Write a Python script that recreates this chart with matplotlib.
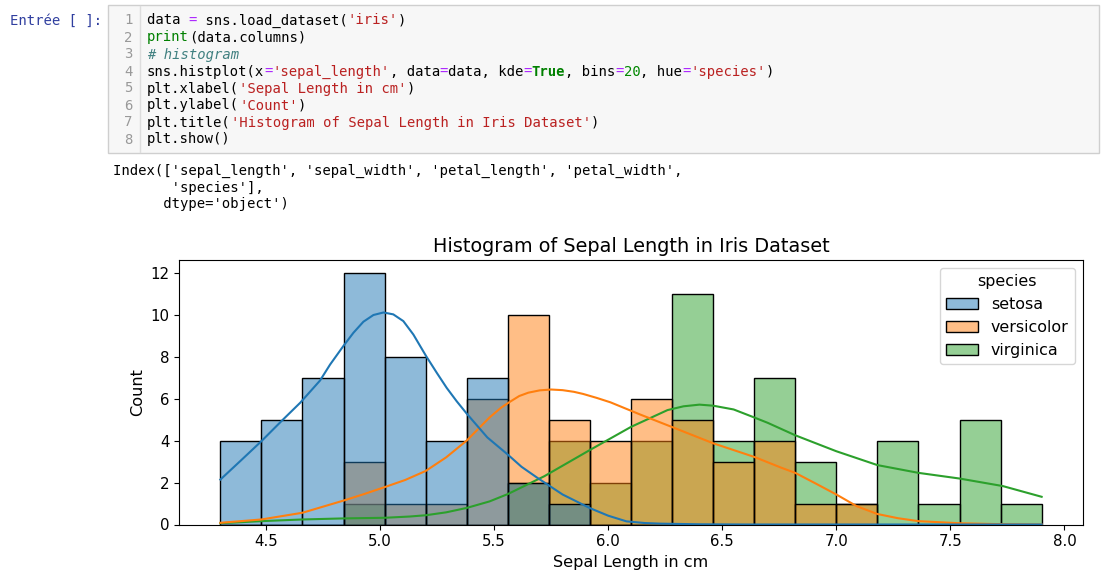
import matplotlib
matplotlib.use("Agg")
import matplotlib.pyplot as plt
import numpy as np
from matplotlib.colors import to_rgba
from matplotlib.patches import Rectangle, Patch
from matplotlib.lines import Line2D

# ---------------- data ----------------
species = ["setosa", "versicolor", "virginica"]
colors = ["#1f77b4", "#ff7f0e", "#2ca02c"]
bin_start, bin_end, n_bins = 4.3, 7.9, 20

counts_setosa = [4, 5, 7, 12, 8, 4, 7, 2, 1, 0, 0, 0, 0, 0, 0, 0, 0, 0, 0, 0]
counts_versicolor = [0, 0, 0, 3, 1, 1, 6, 10, 5, 4, 6, 5, 3, 4, 1, 1, 0, 0, 0, 0]
counts_virginica = [0, 0, 0, 1, 0, 0, 0, 2, 4, 2, 4, 11, 4, 7, 3, 1, 4, 1, 5, 1]

kde_x_setosa = [4.30, 4.39, 4.48, 4.57, 4.65, 4.737, 4.781, 4.839, 4.883, 4.927, 4.971,
                5.015, 5.058, 5.102, 5.146, 5.202, 5.249, 5.292, 5.336, 5.38, 5.47, 5.56,
                5.62, 5.69, 5.80, 5.92, 6.00, 6.08, 6.16, 6.23, 6.40, 6.60, 7.90]
kde_y_setosa = [2.14, 3.05, 3.97, 4.95, 5.80, 6.86, 7.62, 8.50, 9.13, 9.66, 9.98,
                10.10, 10.01, 9.69, 9.05, 8.02, 7.22, 6.51, 5.87, 5.28, 4.15, 3.33,
                2.75, 2.22, 1.43, 0.78, 0.42, 0.15, 0.07, 0.04, 0.01, 0.0, 0.0]

kde_x_versicolor = [4.30, 4.48, 4.66, 4.84, 4.93, 5.02, 5.11, 5.20, 5.29, 5.38, 5.48, 5.53,
                    5.57, 5.61, 5.65, 5.70, 5.75, 5.80, 5.85, 5.89, 5.95, 6.01, 6.14, 6.29,
                    6.46, 6.64, 6.76, 6.82, 6.91, 7.00, 7.09, 7.18, 7.27, 7.36, 7.54, 7.70,
                    7.90]
kde_y_versicolor = [0.08, 0.24, 0.56, 1.14, 1.45, 1.78, 2.12, 2.55, 3.20, 4.00, 5.10, 5.56,
                    5.85, 6.12, 6.28, 6.39, 6.43, 6.40, 6.32, 6.22, 6.03, 5.82, 5.24, 4.60,
                    3.87, 3.22, 2.70, 2.46, 1.95, 1.43, 0.87, 0.50, 0.30, 0.16, 0.06, 0.02,
                    0.0]

kde_x_virginica = [4.30, 4.48, 4.66, 4.84, 5.02, 5.13, 5.20, 5.29, 5.38, 5.48, 5.56, 5.72,
                   5.92, 6.10, 6.26, 6.33, 6.40, 6.46, 6.55, 6.64, 6.70, 6.82, 7.00, 7.18,
                   7.36, 7.54, 7.73, 7.90]
kde_y_virginica = [0.06, 0.16, 0.24, 0.29, 0.32, 0.38, 0.44, 0.58, 0.79, 1.10, 1.45, 2.30,
                   3.55, 4.65, 5.45, 5.63, 5.71, 5.66, 5.48, 5.10, 4.84, 4.25, 3.49, 2.83,
                   2.46, 2.19, 1.83, 1.32]

title = "Histogram of Sepal Length in Iris Dataset"
xlabel = "Sepal Length in cm"
ylabel = "Count"

prompt = "Entrée [ ]:"
# code lines as (text, color, weight, style) tokens
K, OP, STR, COM, BI, NUM = "#000000", "#aa22ff", "#ba2121", "#408080", "#008000", "#008800"
code_lines = [
    [("data ", K), ("=", OP), (" sns.load_dataset(", K), ("'iris'", STR), (")", K)],
    [("print", BI), ("(data.columns)", K)],
    [("# histogram", COM, "normal", "italic")],
    [("sns.histplot(x", K), ("=", OP), ("'sepal_length'", STR), (", data", K), ("=", OP),
     ("data, kde", K), ("=", OP), ("True", BI, "bold"), (", bins", K), ("=", OP),
     ("20", NUM), (", hue", K), ("=", OP), ("'species'", STR), (")", K)],
    [("plt.xlabel(", K), ("'Sepal Length in cm'", STR), (")", K)],
    [("plt.ylabel(", K), ("'Count'", STR), (")", K)],
    [("plt.title(", K), ("'Histogram of Sepal Length in Iris Dataset'", STR), (")", K)],
    [("plt.show()", K)],
]
output_lines = [
    "Index(['sepal_length', 'sepal_width', 'petal_length', 'petal_width',",
    "       'species'],",
    "      dtype='object')",
]

# ---------------- figure ----------------
W, H = 1107, 578
fig = plt.figure(figsize=(W / 100, H / 100), dpi=100)
fig.patch.set_facecolor("white")


def fx(x):
    return x / W


def fy(y):
    return 1 - y / H


mono = "DejaVu Sans Mono"
code_size = 10
adv = 0.6021 * code_size * 100 / 72  # monospace advance in px

# code cell box
fig.patches.append(Rectangle((fx(108), fy(153)), (1099 - 108) / W, (153 - 5) / H,
                             transform=fig.transFigure, facecolor="#f7f7f7",
                             edgecolor="#cfcfcf", lw=1.0, zorder=0))
fig.lines.append(Line2D([fx(140), fx(140)], [fy(6), fy(152)], color="#dddddd", lw=1.0,
                        transform=fig.transFigure))

fig.text(fx(10), fy(24.5), prompt, family=mono, size=code_size, color="#303f9f",
         va="baseline", ha="left")

x0 = 147
for i, tokens in enumerate(code_lines):
    yb = 24.5 + 17 * i
    fig.text(fx(132.5), fy(yb), str(i + 1), family=mono, size=code_size, color="#999999",
             va="baseline", ha="right")
    col = 0
    for tok in tokens:
        text, color = tok[0], tok[1]
        weight = tok[2] if len(tok) > 2 else "normal"
        style = tok[3] if len(tok) > 3 else "normal"
        fig.text(fx(x0 + col * adv), fy(yb), text, family=mono, size=code_size,
                 color=color, weight=weight, style=style, va="baseline", ha="left")
        col += len(text)

for i, line in enumerate(output_lines):
    fig.text(fx(113.4), fy(175 + 16.7 * i), line, family=mono, size=code_size,
             color="#000000", va="baseline", ha="left")

# ---------------- chart ----------------
ax = fig.add_axes([179.3 / W, 1 - 524.5 / H, (1082.7 - 179.3) / W, (524.5 - 260) / H])

edges = np.linspace(bin_start, bin_end, n_bins + 1)
widths = np.diff(edges)
all_counts = [counts_setosa, counts_versicolor, counts_virginica]
all_kx = [kde_x_setosa, kde_x_versicolor, kde_x_virginica]
all_ky = [kde_y_setosa, kde_y_versicolor, kde_y_virginica]

for counts, color in reversed(list(zip(all_counts, colors))):
    ax.bar(edges[:-1], counts, width=widths, align="edge",
           facecolor=to_rgba(color, 0.5), edgecolor="black", linewidth=1.0)
for kx, ky, color in reversed(list(zip(all_kx, all_ky, colors))):
    ax.plot(kx, ky, color=color, lw=1.5, solid_joinstyle="round")

ax.set_xticks([4.5, 5.0, 5.5, 6.0, 6.5, 7.0, 7.5, 8.0])
ax.set_yticks([0, 2, 4, 6, 8, 10, 12])
ax.tick_params(labelsize=10.8)
ax.set_xlabel(xlabel, fontsize=11.6)
ax.set_ylabel(ylabel, fontsize=11.6)
ax.set_title(title, fontsize=13.9)

handles = [Patch(facecolor=to_rgba(c, 0.5), edgecolor="black", lw=1.0) for c in colors]
ax.legend(handles, species, title="species", loc="upper right", fontsize=11.4,
          title_fontsize=11.4)

fig.savefig("out.png", dpi=100)
